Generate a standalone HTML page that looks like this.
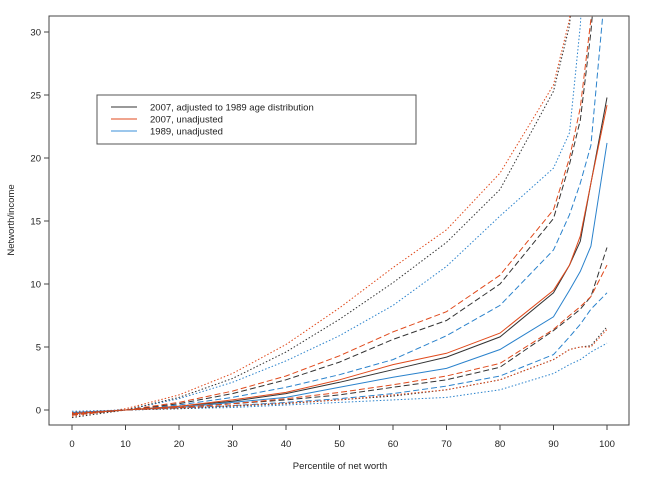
<!DOCTYPE html>
<html><head><meta charset="utf-8"><style>
body{margin:0;background:#fff;}
svg text{font-family:"Liberation Sans",sans-serif;fill:#222;}
</style></head><body>
<svg id="c" width="650" height="478" xmlns="http://www.w3.org/2000/svg">
<defs><clipPath id="clip"><rect x="49" y="16" width="580" height="409"/></clipPath></defs>
<rect x="49" y="16" width="580" height="409" fill="none" stroke="#444" stroke-width="1"/>
<g id="axes"></g>
<g id="lines" clip-path="url(#clip)"></g>
<g>
<rect x="97" y="95" width="319" height="49" fill="#fff" stroke="#555" stroke-width="1"/>
<line x1="111" y1="107" x2="137" y2="107" stroke="#333" stroke-width="1"/>
<text x="150" y="110.5" font-size="9.5">2007, adjusted to 1989 age distribution</text>
<line x1="111" y1="119" x2="137" y2="119" stroke="#e04a1c" stroke-width="1"/>
<text x="150" y="122.5" font-size="9.5">2007, unadjusted</text>
<line x1="111" y1="131" x2="137" y2="131" stroke="#3a8fd8" stroke-width="1"/>
<text x="150" y="134.5" font-size="9.5">1989, unadjusted</text>
</g>
<text x="340" y="469" font-size="9.5" text-anchor="middle">Percentile of net worth</text>
<text transform="translate(14,220) rotate(-90)" font-size="9.5" text-anchor="middle">Networth/income</text>
</svg>
<script>
const percentiles=[0,10,20,30,40,50,60,70,80,90,93,95,97,100];
const xTicks=[0,10,20,30,40,50,60,70,80,90,100];
const yTicks=[0,5,10,15,20,25,30];
const orangeP90=[-0.5,0.1,1.2,2.9,5.2,8.1,11.3,14.3,18.8,25.8,31,40,50,60];
const blackP90=[-0.6,0,1,2.5,4.6,7.2,10.1,13.3,17.5,25.3,30.5,40,50,60];
const blueP90=[-0.4,0,0.9,2.2,3.9,5.9,8.3,11.4,15.4,19.2,22,30.5,45,60];
const orangeP75=[-0.4,0,0.6,1.5,2.7,4.3,6.2,7.8,10.7,15.9,20,24,31,45];
const blackP75=[-0.4,0,0.5,1.3,2.4,3.8,5.6,7.1,10.0,15.2,19.5,23,30,45];
const blueP75=[-0.3,0,0.4,1.0,1.8,2.8,4.0,5.9,8.3,12.7,15.5,18,21,35];
const orangeP50=[-0.3,0,0.3,0.8,1.4,2.4,3.6,4.5,6.1,9.5,11.5,13.8,18,24.2];
const blackP50=[-0.3,0,0.3,0.7,1.3,2.2,3.2,4.2,5.8,9.3,11.5,13.4,18,24.8];
const blueP50=[-0.2,0,0.2,0.6,1.0,1.8,2.6,3.3,4.8,7.4,9.5,11,13,21.2];
const orangeP25=[-0.3,0,0.2,0.5,0.9,1.4,2.0,2.7,3.7,6.4,7.5,8.2,9,11.5];
const blackP25=[-0.3,0,0.2,0.5,0.8,1.2,1.8,2.4,3.4,6.3,7.3,8,9,12.9];
const blueP25=[-0.2,0,0.15,0.35,0.6,0.9,1.3,1.9,2.7,4.4,5.8,6.8,8,9.3];
const orangeP10=[-0.2,0,0.15,0.35,0.55,0.8,1.2,1.6,2.4,4.0,4.8,5.0,5.0,6.4];
const blackP10=[-0.2,0,0.1,0.3,0.5,0.8,1.1,1.6,2.4,4.0,4.8,5.0,5.1,6.6];
const blueP10=[-0.1,0,0.1,0.2,0.4,0.6,0.8,1.0,1.6,2.9,3.6,4.0,4.6,5.3];

const NS="http://www.w3.org/2000/svg";
function xs(v){return 72+v*5.35;}
function ys(v){return 410-v*12.6;}
const axes=document.getElementById('axes');
const lines=document.getElementById('lines');
function mk(tag,attrs,parent){const e=document.createElementNS(NS,tag);for(const k in attrs)e.setAttribute(k,attrs[k]);parent.appendChild(e);return e;}
xTicks.forEach(t=>{
  const l=mk('line',{x1:xs(t),x2:xs(t),y1:425,y2:430,stroke:'#444'},axes);
  
  
  const tx=mk('text',{x:xs(t),y:447,'font-size':9.5,'text-anchor':'middle'},axes);
  tx.textContent=t;
  
  
});
yTicks.forEach(t=>{
  const l=mk('line',{x1:44,x2:49,y1:ys(t),y2:ys(t),stroke:'#444'},axes);
  
  
  const tx=mk('text',{x:41,y:ys(t)+3.5,'font-size':9.5,'text-anchor':'end'},axes);
  tx.textContent=t;
  
  
});
const C={black:'#333',orange:'#e04a1c',blue:'#2a82cc'};
const D={p90:'1.5,2',p75:'6,3',p50:'',p25:'6,3',p10:'1.5,2'};
const series=[
 ['blue','p90',blueP90],['black','p90',blackP90],['orange','p90',orangeP90],
 ['blue','p75',blueP75],['black','p75',blackP75],['orange','p75',orangeP75],
 ['blue','p50',blueP50],['black','p50',blackP50],['orange','p50',orangeP50],
 ['blue','p25',blueP25],['black','p25',blackP25],['orange','p25',orangeP25],
 ['blue','p10',blueP10],['black','p10',blackP10],['orange','p10',orangeP10]];
series.forEach(([col,q,vals])=>{
  const d=vals.map((v,i)=>(i?'L':'M')+xs(percentiles[i]).toFixed(1)+','+ys(v).toFixed(1)).join('');
  const p=mk('path',{d:d,fill:'none',stroke:C[col],'stroke-width':1},lines);
  if(D[q])p.setAttribute('stroke-dasharray',D[q]);
  
  
});
</script>
</body></html>
